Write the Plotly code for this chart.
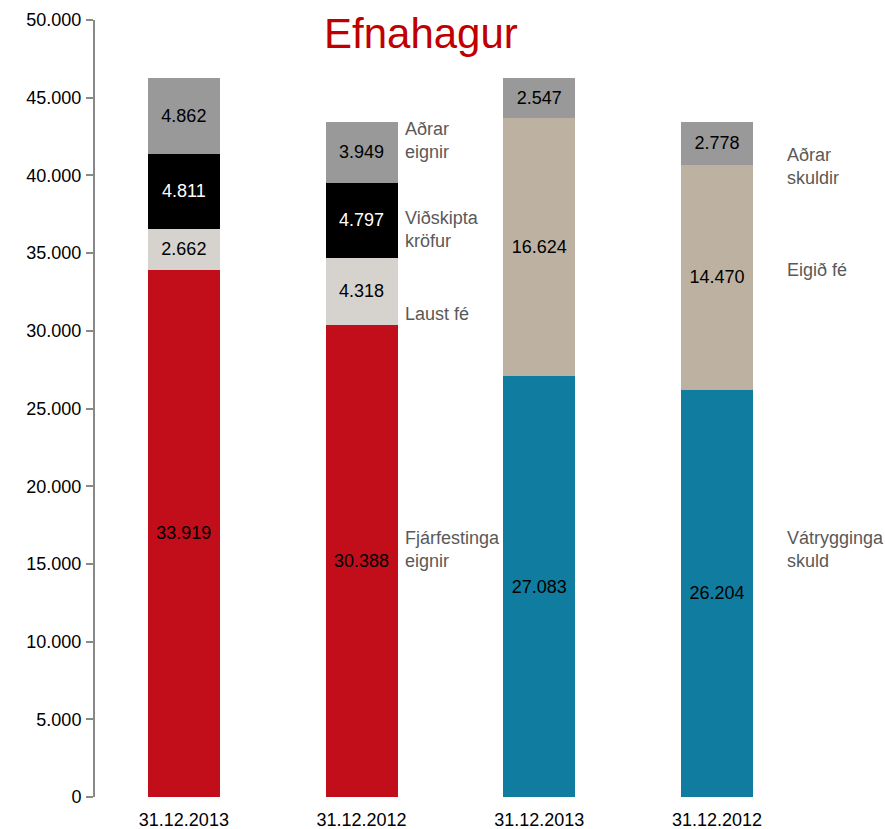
import plotly.graph_objects as go

# ---- data ----
x_labels = ["31.12.2013", "31.12.2012", "31.12.2013", "31.12.2012"]
x_pos = [0, 1, 2, 3]

# assets (bars 1-2)
fjarfestinga = [33919, 30388, None, None]
laust_fe = [2662, 4318, None, None]
vidskipta = [4811, 4797, None, None]
adrar_eignir = [4862, 3949, None, None]
# liabilities & equity (bars 3-4)
vatrygginga = [None, None, 27083, 26204]
eigid_fe = [None, None, 16624, 14470]
adrar_skuldir = [None, None, 2547, 2778]

y_ticks = [0, 5000, 10000, 15000, 20000, 25000, 30000, 35000, 40000, 45000, 50000]

side_labels = ["Aðrar<br>eignir", "Viðskipta<br>kröfur", "Laust fé", "Fjárfestinga<br>eignir",
               "Aðrar<br>skuldir", "Eigið fé", "Vátrygginga<br>skuld"]
side_label_x = [1.235, 1.235, 1.235, 1.235, 3.385, 3.385, 3.385]
side_label_y = [42250, 36550, 31080, 15930, 40600, 33900, 15930]


def fmt(v):
    return "" if v is None else f"{v:,}".replace(",", ".")


FONT = "Liberation Sans, Arial, sans-serif"

series = [
    (fjarfestinga, "#C20E1A", "black"),
    (laust_fe, "#D6D3CE", "black"),
    (vidskipta, "#000000", "white"),
    (adrar_eignir, "#999999", "black"),
    (vatrygginga, "#107DA0", "black"),
    (eigid_fe, "#BDB1A1", "black"),
    (adrar_skuldir, "#999999", "black"),
]

fig = go.Figure()
for vals, color, tcolor in series:
    fig.add_trace(go.Bar(
        x=x_pos, y=vals, width=0.405,
        marker=dict(color=color, line=dict(width=0)),
        text=[fmt(v) for v in vals],
        textposition="inside", insidetextanchor="middle",
        textfont=dict(family=FONT, size=18, color=tcolor),
        constraintext="none", showlegend=False, hoverinfo="skip",
    ))

for t, xx, yy in zip(side_labels, side_label_x, side_label_y):
    fig.add_annotation(x=xx, y=yy, text=t, showarrow=False, xanchor="left", yanchor="middle",
                       align="left",
                       font=dict(family=FONT, size=18, color="#595959"))

fig.add_annotation(x=(421 - 95) / 790, y=1 - (33 - 20) / 777, xref="paper", yref="paper",
                   text="Efnahagur", showarrow=False, xanchor="center", yanchor="middle",
                   font=dict(family=FONT, size=42, color="#C00000"))

fig.update_layout(
    barmode="stack",
    width=885, height=829,
    margin=dict(l=95, r=0, t=20, b=32, autoexpand=False),
    plot_bgcolor="white", paper_bgcolor="white",
    font=dict(family=FONT, size=18, color="black"),
    xaxis=dict(
        range=[-0.5, 3.945], tickmode="array", tickvals=x_pos, ticktext=x_labels,
        showline=False, showgrid=False, zeroline=False, ticks="",
        ticklabelstandoff=10, automargin=False,
        tickfont=dict(size=18, color="black"),
    ),
    yaxis=dict(
        range=[0, 50000], tickmode="array", tickvals=y_ticks,
        ticktext=[fmt(v) for v in y_ticks],
        showline=True, linecolor="#898989", linewidth=2,
        ticks="outside", ticklen=7, tickcolor="#898989", tickwidth=2,
        showgrid=False, zeroline=False, ticklabelstandoff=1, automargin=False,
        tickfont=dict(size=18, color="black"),
    ),
)

fig.write_html("out.html", config={"displayModeBar": False},
               post_script="document.body.style.margin='0';document.body.style.overflow='hidden';")
